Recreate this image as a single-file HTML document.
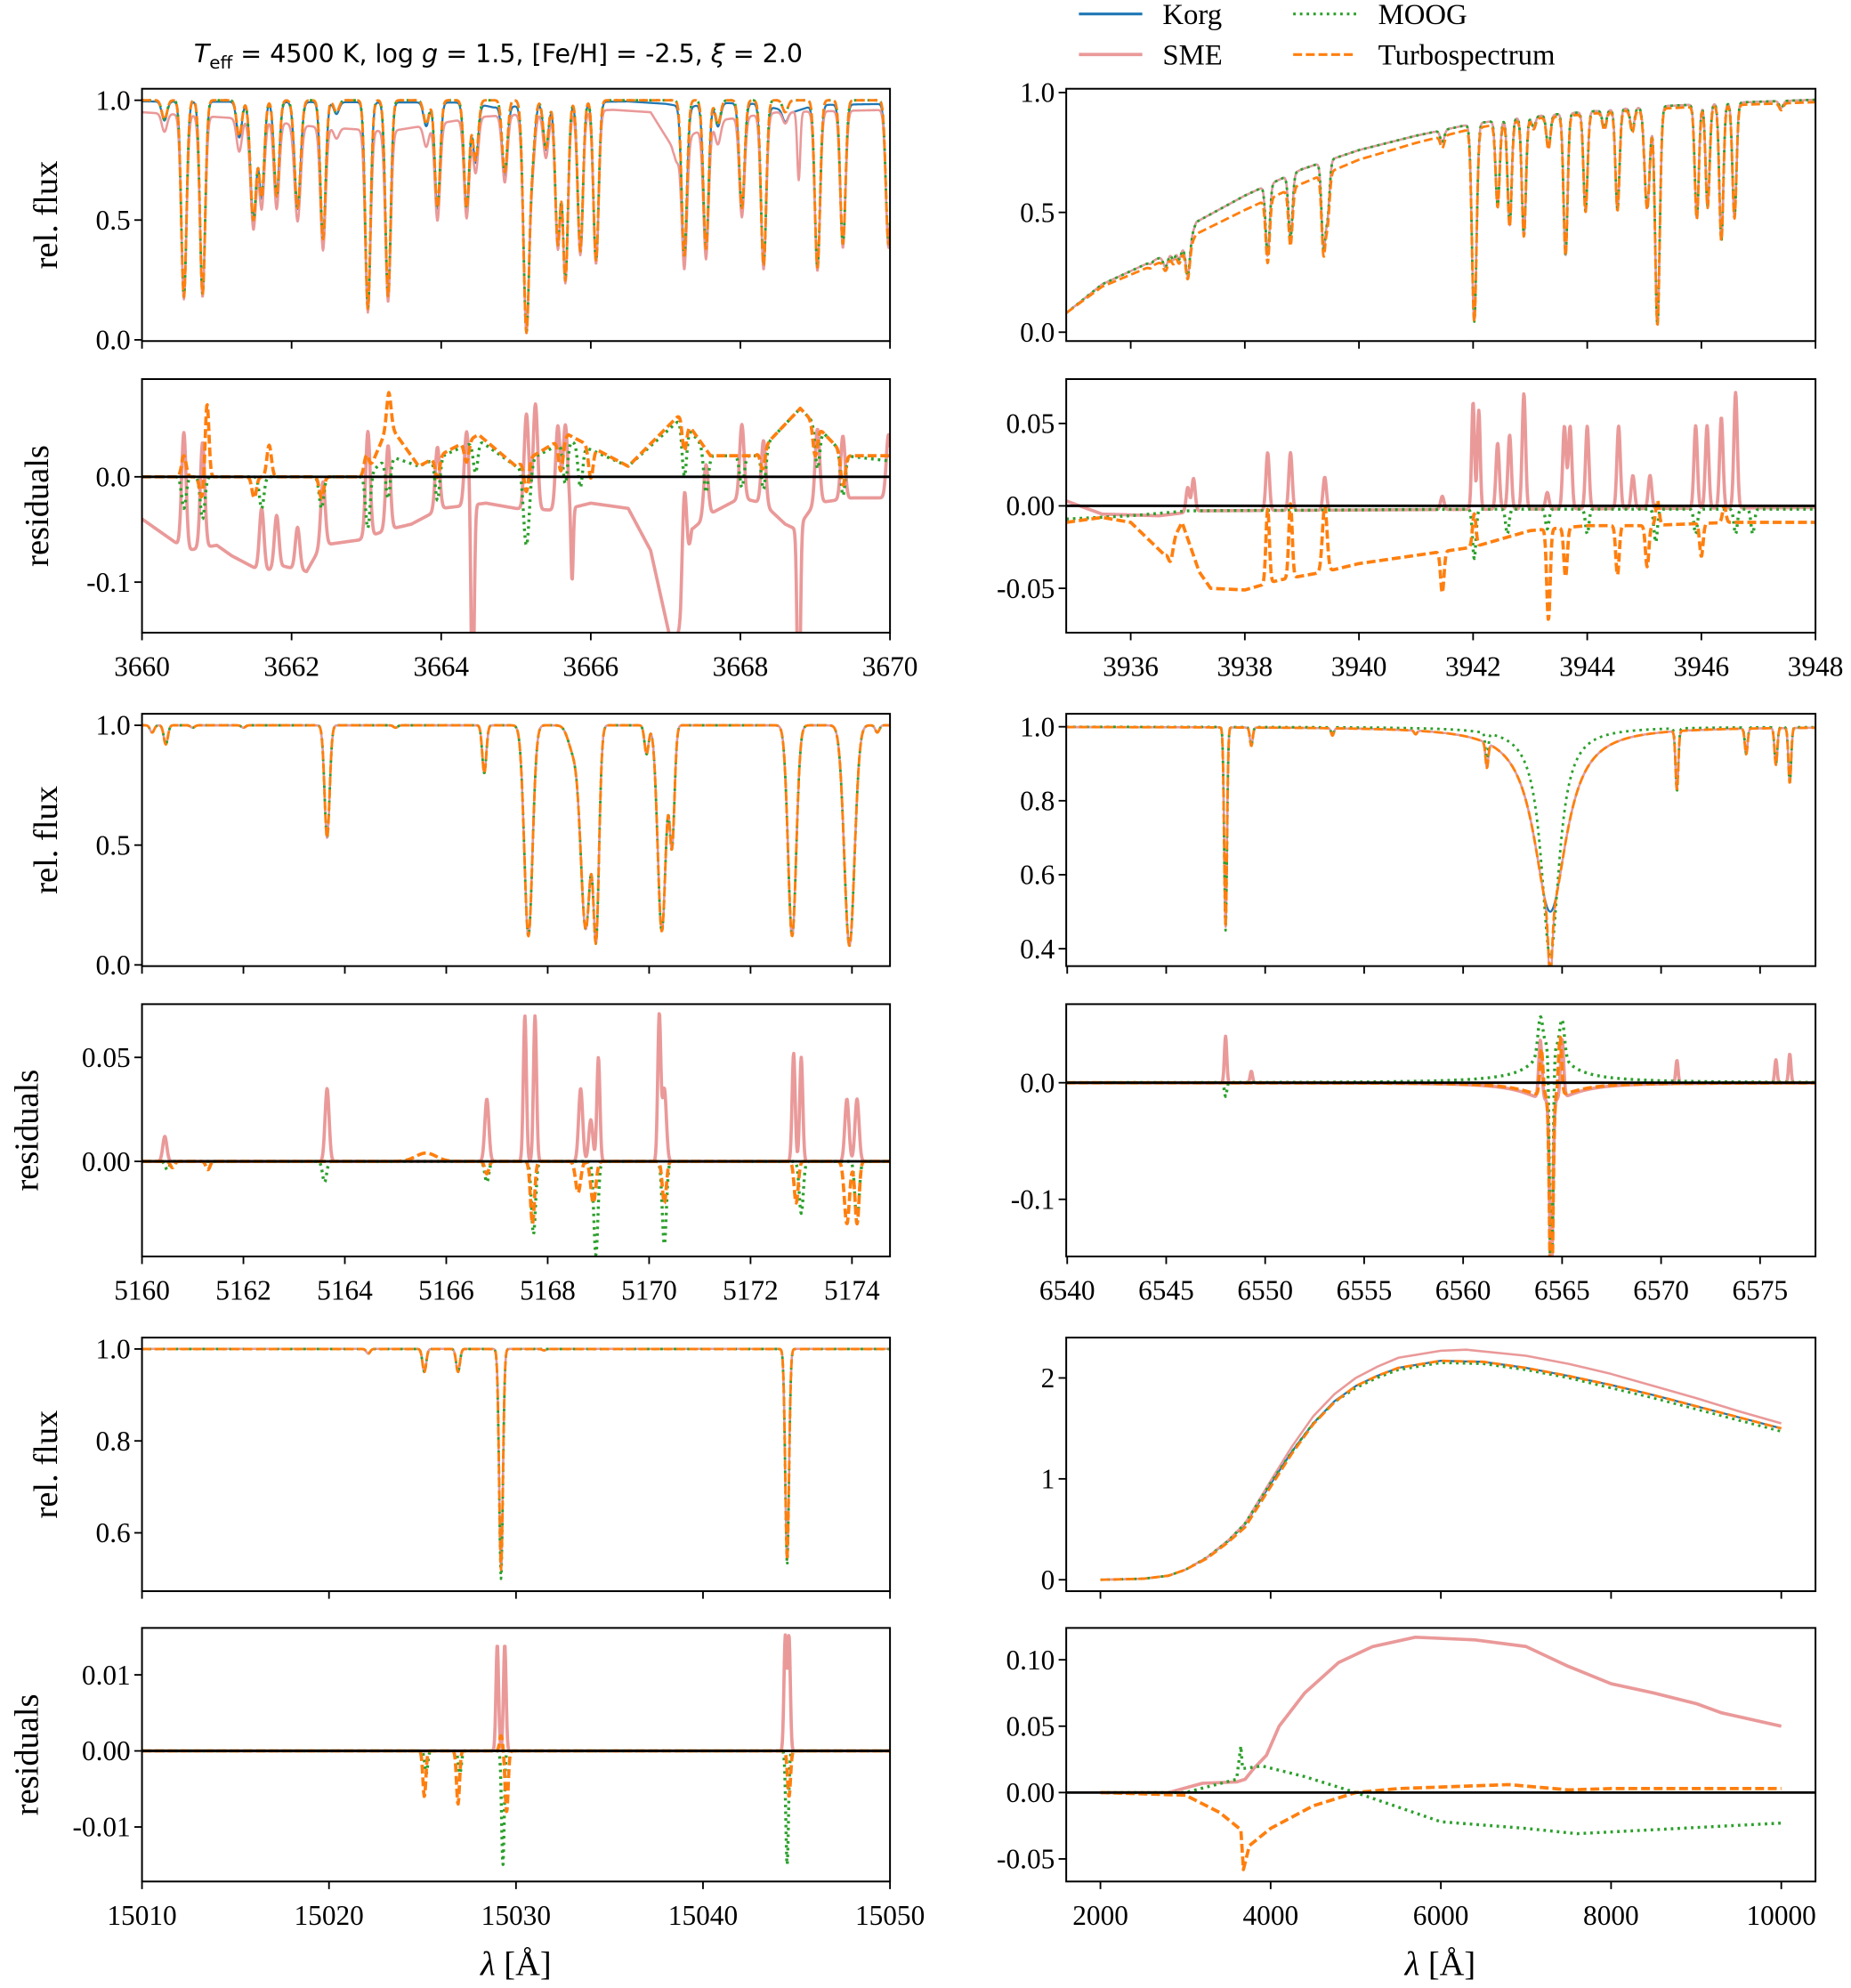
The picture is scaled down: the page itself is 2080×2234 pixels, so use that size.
<!DOCTYPE html>
<html><head><meta charset="utf-8"><style>
html,body{margin:0;padding:0;background:#fff;}
svg{display:block;}
text{font-family:"Liberation Serif","DejaVu Serif",serif;fill:#000;}
</style></head><body>
<svg id="fig" xmlns="http://www.w3.org/2000/svg" width="2080" height="2234" viewBox="0 0 1460 1568" preserveAspectRatio="none">
<rect x="0" y="0" width="1460" height="1568" fill="#fff"/>
<text x="393" y="49" text-anchor="middle" style="font-family:'DejaVu Sans','Liberation Sans',sans-serif;font-size:20px"><tspan font-style="italic">T</tspan><tspan font-size="14" dy="5">eff</tspan><tspan dy="-5"> = 4500 K, log </tspan><tspan font-style="italic">g</tspan><tspan> = 1.5, [Fe/H] = -2.5, </tspan><tspan font-style="italic">ξ</tspan><tspan> = 2.0</tspan></text>
<g>
<line x1="851" y1="11" x2="901" y2="11" stroke="#1f77b4" stroke-width="2.2"/>
<text x="917" y="19" font-size="23">Korg</text>
<line x1="1020" y1="11" x2="1070" y2="11" stroke="#2ca02c" stroke-width="2.2" stroke-dasharray="2,3.3"/>
<text x="1087" y="19" font-size="23">MOOG</text>
<line x1="851" y1="43" x2="901" y2="43" stroke="#ea9999" stroke-width="2.6"/>
<text x="917" y="51" font-size="23">SME</text>
<line x1="1020" y1="43" x2="1070" y2="43" stroke="#ff7f0e" stroke-width="2.2" stroke-dasharray="7,3"/>
<text x="1087" y="51" font-size="23">Turbospectrum</text>
</g>
<text x="407" y="1558" text-anchor="middle" font-size="27"><tspan font-style="italic">λ</tspan> [Å]</text>
<text x="1136" y="1558" text-anchor="middle" font-size="27"><tspan font-style="italic">λ</tspan> [Å]</text>
</svg>
<script>
// ---------- Panel A: 3660-3670 ----------
const linesA = [[3660.3,0.08,0.035],[3660.56,0.82,0.035],[3660.81,0.81,0.035],[3661.3,0.15,0.035],[3661.49,0.5,0.04],[3661.6,0.4,0.035],[3661.8,0.4,0.035],[3662.08,0.45,0.04],[3662.42,0.58,0.035],[3662.6,0.05,0.035],[3663.02,0.87,0.035],[3663.29,0.82,0.035],[3663.8,0.1,0.035],[3663.95,0.45,0.035],[3664.34,0.45,0.035],[3664.46,0.25,0.035],[3664.85,0.3,0.035],[3665.14,0.97,0.04],[3665.22,0.2,0.035],[3665.4,0.2,0.035],[3665.56,0.6,0.035],[3665.66,0.75,0.035],[3665.86,0.63,0.035],[3666.07,0.67,0.035],[3667.25,0.65,0.035],[3667.54,0.62,0.035],[3667.7,0.1,0.035],[3668.02,0.45,0.035],[3668.31,0.69,0.035],[3668.6,0.05,0.035],[3669.03,0.7,0.035],[3669.37,0.6,0.035],[3669.98,0.6,0.035]];
const smeExtraLinesA = [[3668.78,0.3,0.02],[3667.15,0.08,0.03]];
const contKorgA = [[3660,0.995],[3664.4,0.99],[3664.7,0.97],[3665.0,0.975],[3665.3,0.99],[3666.5,0.995],[3667.0,0.985],[3667.3,0.97],[3667.6,0.99],[3668.2,0.985],[3668.7,0.95],[3669.0,0.98],[3670,0.985]];
const contSMEA = [[3660,0.95],[3661.5,0.92],[3662.3,0.89],[3663.3,0.87],[3664.5,0.93],[3665.5,0.95],[3666.3,0.96],[3666.8,0.95],[3667.1,0.8],[3667.3,0.85],[3667.8,0.92],[3668.5,0.95],[3670,0.96]];
const contFlatA = [[3660,1.0],[3670,1.0]];
const smeBaseA = [[3660,-0.04],[3660.4,-0.06],[3660.6,-0.07],[3661.0,-0.065],[3661.2,-0.075],[3661.6,-0.09],[3661.9,-0.085],[3662.2,-0.09],[3662.4,-0.065],[3662.9,-0.06],[3663.3,-0.05],[3663.6,-0.045],[3664.0,-0.03],[3664.6,-0.025],[3665.0,-0.03],[3665.6,-0.032],[3666.0,-0.025],[3666.5,-0.03],[3666.8,-0.07],[3667.05,-0.15],[3667.2,-0.15],[3667.35,-0.05],[3667.6,-0.035],[3668.0,-0.02],[3668.3,-0.025],[3668.6,-0.045],[3668.75,-0.05],[3669.0,-0.025],[3669.5,-0.02],[3670,-0.02]];
const smeSpikesA = [[3660.56,0.11,0.03],[3660.81,0.1,0.03],[3661.6,0.06,0.03],[3661.8,0.05,0.03],[3662.08,0.04,0.03],[3662.42,0.06,0.03],[3663.02,0.1,0.03],[3663.29,0.08,0.03],[3663.95,0.06,0.03],[3664.34,0.07,0.03],[3664.42,-0.2,0.02],[3665.14,0.09,0.03],[3665.26,0.1,0.03],[3665.56,0.08,0.03],[3665.66,0.08,0.03],[3665.75,-0.07,0.015],[3667.25,0.1,0.03],[3667.54,0.05,0.03],[3668.02,0.07,0.03],[3668.31,0.06,0.03],[3668.78,-0.2,0.02],[3669.03,0.07,0.03],[3669.37,0.06,0.03],[3669.98,0.06,0.03]];
const turboBaseA = [[3660,0],[3663.0,0],[3663.3,0.05],[3663.7,0.01],[3664.5,0.04],[3665.0,0.01],[3665.7,0.04],[3666.5,0.01],[3667.2,0.06],[3667.6,0.02],[3668.2,0.02],[3668.8,0.065],[3669.4,0.02],[3670,0.02]];
const turboSpikesA = [[3660.56,0.02,0.03],[3660.8,-0.02,0.03],[3660.87,0.07,0.025],[3661.5,-0.02,0.03],[3661.7,0.03,0.03],[3662.4,-0.02,0.03],[3663.0,0.02,0.03],[3663.3,0.03,0.03],[3663.95,-0.02,0.03],[3664.34,-0.02,0.03],[3665.14,-0.03,0.03],[3665.6,-0.03,0.03],[3666.0,-0.03,0.03],[3667.25,-0.03,0.03],[3668.3,-0.02,0.03],[3669.0,-0.03,0.03],[3669.37,-0.03,0.03]];
const moogBaseA = [[3660,0],[3663.0,0],[3663.3,0.02],[3663.7,0.01],[3664.5,0.035],[3665.0,0.01],[3665.7,0.035],[3666.5,0.01],[3667.2,0.055],[3667.6,0.02],[3668.2,0.02],[3668.8,0.065],[3669.4,0.02],[3670,0.015]];
const moogSpikesA = [[3660.56,-0.03,0.03],[3660.81,-0.04,0.03],[3661.6,-0.03,0.03],[3662.4,-0.03,0.03],[3663.02,-0.05,0.03],[3663.29,-0.04,0.03],[3663.95,-0.04,0.03],[3664.46,-0.03,0.03],[3665.14,-0.08,0.04],[3665.66,-0.04,0.03],[3665.86,-0.04,0.03],[3667.25,-0.05,0.03],[3667.54,-0.04,0.03],[3668.02,-0.03,0.03],[3668.31,-0.04,0.03],[3669.03,-0.04,0.03],[3669.37,-0.04,0.03]];
// ---------- Panel B: 3935-3948 ----------
const linesB = [[3936.35,0.03,0.03],[3936.61,0.15,0.04],[3936.75,0.1,0.03],[3936.85,0.12,0.03],[3937.0,0.35,0.035],[3938.4,0.48,0.035],[3938.8,0.4,0.035],[3939.38,0.5,0.035],[3939.45,0.3,0.035],[3941.46,0.06,0.035],[3942.02,0.95,0.04],[3942.43,0.4,0.035],[3942.64,0.5,0.035],[3942.89,0.55,0.035],[3943.06,0.05,0.035],[3943.32,0.15,0.035],[3943.62,0.65,0.035],[3943.97,0.45,0.035],[3944.3,0.08,0.035],[3944.53,0.45,0.035],[3944.79,0.1,0.035],[3945.05,0.45,0.045],[3945.23,0.97,0.04],[3945.92,0.5,0.035],[3946.11,0.45,0.035],[3946.35,0.6,0.035],[3946.58,0.5,0.035],[3947.4,0.03,0.035]];
const contKorgB = [[3934.87,0.08],[3935.5,0.2],[3936.5,0.31],[3937.0,0.36],[3937.15,0.46],[3938,0.57],[3939,0.68],[3940,0.76],[3941,0.82],[3942,0.87],[3943,0.9],[3944,0.92],[3945,0.94],[3946.8,0.96],[3948,0.97]];
const contTurboB = [[3934.87,0.08],[3935.5,0.19],[3936.5,0.29],[3937.0,0.34],[3937.15,0.41],[3938,0.51],[3939,0.62],[3940,0.72],[3941,0.79],[3942,0.85],[3943,0.89],[3944,0.91],[3945,0.93],[3946.8,0.95],[3948,0.96]];
const smeBaseB = [[3934.87,0.003],[3935.5,-0.005],[3936.5,-0.006],[3937.2,-0.003],[3948,-0.001]];
const smeSpikesB = [[3937.0,0.015,0.03],[3937.1,0.02,0.03],[3938.4,0.035,0.03],[3938.8,0.035,0.03],[3939.4,0.02,0.03],[3941.46,0.008,0.03],[3942.0,0.065,0.025],[3942.1,0.06,0.025],[3942.43,0.04,0.03],[3942.64,0.045,0.03],[3942.89,0.07,0.03],[3943.3,0.01,0.03],[3943.6,0.05,0.03],[3943.7,0.05,0.03],[3944.0,0.05,0.03],[3944.55,0.05,0.03],[3944.8,0.02,0.03],[3945.1,0.02,0.03],[3945.9,0.05,0.03],[3946.1,0.05,0.03],[3946.35,0.055,0.03],[3946.6,0.07,0.03]];
const turboBaseB = [[3934.87,-0.01],[3935.5,-0.007],[3936,-0.01],[3936.3,-0.02],[3936.6,-0.03],[3936.9,-0.01],[3937.2,-0.04],[3937.4,-0.05],[3938,-0.051],[3938.6,-0.045],[3939.4,-0.04],[3940,-0.035],[3941,-0.03],[3942,-0.025],[3943,-0.015],[3944,-0.012],[3945,-0.012],[3946.5,-0.01],[3948,-0.01]];
const turboSpikesB = [[3936.7,-0.01,0.04],[3938.4,0.045,0.03],[3938.8,0.045,0.03],[3939.4,0.04,0.04],[3941.46,-0.025,0.03],[3942.02,0.02,0.03],[3943.32,-0.055,0.03],[3943.62,-0.03,0.03],[3944.53,-0.03,0.03],[3945.05,-0.025,0.03],[3945.23,0.015,0.03],[3946.0,-0.02,0.03],[3946.4,0.01,0.03]];
const moogBaseB = [[3934.87,-0.008],[3936,-0.006],[3937,-0.003],[3942,-0.002],[3948,-0.002]];
const moogSpikesB = [[3942.02,-0.03,0.03],[3942.6,-0.015,0.03],[3943.3,-0.012,0.03],[3944.0,-0.015,0.03],[3945.2,-0.02,0.03],[3945.9,-0.015,0.03],[3946.6,-0.015,0.03],[3946.9,-0.015,0.03]];
// ---------- Panel C: 5160-5175 ----------
const linesC = [[5160.2,0.03,0.04],[5160.47,0.08,0.04],[5161.0,0.01,0.04],[5162.0,0.01,0.04],[5163.65,0.47,0.05],[5165.0,0.01,0.04],[5166.75,0.2,0.04],[5167.62,0.88,0.08],[5168.5,0.1,0.1],[5168.75,0.85,0.1],[5168.95,0.9,0.06],[5169.95,0.12,0.04],[5170.25,0.86,0.08],[5170.45,0.5,0.05],[5172.82,0.88,0.08],[5173.95,0.92,0.1],[5174.5,0.03,0.04]];
const contFlatC = [[5160,1.0],[5175,1.0]];
const zeroBaseC = [[5160,0],[5175,0]];
const smeSpikesC = [[5160.45,0.012,0.04],[5163.65,0.035,0.04],[5166.8,0.03,0.04],[5167.55,0.07,0.03],[5167.75,0.07,0.03],[5168.65,0.035,0.04],[5168.85,0.02,0.04],[5169.0,0.05,0.03],[5170.2,0.07,0.03],[5170.3,0.035,0.04],[5172.85,0.052,0.03],[5173.0,0.05,0.03],[5173.9,0.03,0.04],[5174.1,0.03,0.04]];
const turboSpikesC = [[5160.6,-0.003,0.04],[5161.3,-0.004,0.04],[5165.6,0.004,0.2],[5166.8,-0.006,0.04],[5167.7,-0.03,0.04],[5168.6,-0.015,0.05],[5168.9,-0.02,0.05],[5170.3,-0.02,0.04],[5172.9,-0.02,0.04],[5173.9,-0.03,0.05],[5174.1,-0.03,0.04]];
const moogSpikesC = [[5160.5,-0.004,0.04],[5163.6,-0.01,0.04],[5166.8,-0.01,0.04],[5167.72,-0.035,0.04],[5168.95,-0.045,0.04],[5170.3,-0.04,0.04],[5173.0,-0.025,0.04],[5174.1,-0.03,0.04]];
// ---------- Panel D: 6540-6578 ----------
const linesKorgD = [[6548.0,0.54,0.07],[6549.3,0.05,0.07],[6553.4,0.02,0.07],[6557.6,0.01,0.07],[6561.2,0.07,0.07],[6564.4,0.5,1.0,1],[6570.8,0.16,0.07],[6574.3,0.07,0.07],[6575.8,0.1,0.07],[6576.5,0.15,0.07]];
const coreSMED = [[6564.4,0.38,0.1]];
const coreTurboD = [[6564.4,0.33,0.1]];
const linesMoogD = [[6548.0,0.55,0.07],[6549.3,0.05,0.07],[6553.4,0.02,0.07],[6561.2,0.07,0.07],[6564.4,0.62,0.55,1],[6570.8,0.17,0.07],[6574.3,0.07,0.07],[6575.8,0.1,0.07],[6576.5,0.15,0.07]];
const contFlatD = [[6539,1.0],[6578,1.0]];
const zeroBaseD = [[6539,0],[6578,0]];
const smeSpikesD = [[6548.0,0.04,0.06],[6549.3,0.01,0.06],[6570.8,0.02,0.06],[6575.8,0.02,0.06],[6576.5,0.025,0.06],[6564.4,-0.015,1.5,1],[6563.9,0.05,0.08],[6565.0,0.05,0.08],[6564.45,-0.16,0.08]];
const moogSpikesD = [[6548.0,-0.012,0.06],[6564.4,0.005,3,1],[6564.4,0.03,0.8,1],[6563.9,0.03,0.12],[6565.0,0.03,0.12],[6564.45,-0.22,0.08]];
const turboSpikesD = [[6564.4,-0.012,1.5,1],[6563.95,0.04,0.08],[6564.9,0.05,0.08],[6564.45,-0.2,0.08]];
// ---------- Panel E: 15010-15050 ----------
const linesE = [[15022.1,0.01,0.1],[15025.1,0.05,0.1],[15026.9,0.05,0.1],[15029.2,0.48,0.1],[15031.5,0.003,0.1],[15044.5,0.46,0.1]];
const linesMoogE = [[15022.1,0.01,0.1],[15025.1,0.05,0.1],[15026.9,0.05,0.1],[15029.2,0.5,0.1],[15044.5,0.47,0.1]];
const contFlatE = [[15010,1.0],[15050,1.0]];
const zeroBaseE = [[15010,0],[15050,0]];
const smeSpikesE = [[15029.0,0.014,0.07],[15029.4,0.014,0.07],[15044.4,0.015,0.07],[15044.6,0.015,0.07]];
const turboSpikesE = [[15025.1,-0.006,0.08],[15026.9,-0.007,0.08],[15029.5,-0.008,0.08],[15029.2,0.002,0.08],[15044.6,-0.006,0.08]];
const moogSpikesE = [[15025.2,-0.003,0.08],[15027.0,-0.003,0.08],[15029.3,-0.015,0.07],[15044.5,-0.015,0.07]];
// ---------- Panel F: 2000-10000 ----------
const fluxKorgF = [[2000,0],[2500,0.01],[2800,0.04],[3000,0.1],[3250,0.22],[3500,0.38],[3700,0.55],[4000,0.95],[4250,1.27],[4500,1.55],[4750,1.77],[5000,1.92],[5250,2.02],[5500,2.1],[6000,2.17],[6500,2.16],[7000,2.1],[7500,2.02],[8000,1.93],[8500,1.83],[9000,1.72],[9500,1.61],[10000,1.5]];
const fluxSMEF = [[2000,0],[2500,0.01],[2800,0.04],[3000,0.1],[3250,0.22],[3500,0.39],[3700,0.56],[4000,0.98],[4250,1.32],[4500,1.62],[4750,1.84],[5000,2.0],[5250,2.11],[5500,2.2],[6000,2.27],[6300,2.28],[7000,2.22],[7500,2.14],[8000,2.04],[8500,1.92],[9000,1.8],[9500,1.67],[10000,1.55]];
const fluxMoogF = [[2000,0],[2500,0.01],[2800,0.04],[3000,0.1],[3250,0.22],[3500,0.385],[3700,0.56],[4000,0.96],[4250,1.27],[4500,1.55],[4750,1.76],[5000,1.9],[5250,2.0],[5500,2.08],[6000,2.15],[6500,2.14],[7000,2.08],[7500,2.0],[8000,1.9],[8500,1.8],[9000,1.69],[9500,1.58],[10000,1.47]];
const fluxTurboF = [[2000,0],[2500,0.01],[2800,0.04],[3000,0.1],[3250,0.21],[3500,0.37],[3700,0.52],[4000,0.92],[4250,1.25],[4500,1.54],[4750,1.76],[5000,1.92],[5250,2.02],[5500,2.1],[6000,2.17],[6500,2.16],[7000,2.1],[7500,2.02],[8000,1.93],[8500,1.83],[9000,1.72],[9500,1.61],[10000,1.5]];
const resSMEF = [[2000,0],[2800,0],[3200,0.007],[3600,0.008],[3700,0.01],[3800,0.018],[3950,0.028],[4100,0.05],[4400,0.075],[4800,0.098],[5200,0.11],[5700,0.117],[6400,0.115],[7000,0.11],[7500,0.095],[8000,0.082],[8500,0.075],[9000,0.067],[9300,0.06],[10000,0.05]];
const resMoogF = [[2000,0],[3000,0],[3600,0.01],[3650,0.035],[3670,0.018],[3900,0.02],[4400,0.012],[5000,0],[6000,-0.022],[7000,-0.027],[7600,-0.031],[8500,-0.028],[10000,-0.023]];
const resTurboF = [[2000,0],[3000,-0.002],[3400,-0.015],[3650,-0.028],[3680,-0.058],[3750,-0.04],[4000,-0.027],[4500,-0.01],[5000,0],[5500,0.003],[6800,0.006],[7500,0.002],[8000,0.003],[10000,0.003]];
// ---------- tick labels ----------
const ticksXA = [3660,3662,3664,3666,3668,3670];
const ticksXB = [3936,3938,3940,3942,3944,3946,3948];
const ticksXC = [5160,5162,5164,5166,5168,5170,5172,5174];
const ticksXD = [6540,6545,6550,6555,6560,6565,6570,6575];
const ticksXE = [15010,15020,15030,15040,15050];
const ticksXF = [2000,4000,6000,8000,10000];
const ticksFlux01 = [[0,"0.0"],[0.5,"0.5"],[1.0,"1.0"]];
const ticksResA = [[-0.1,"-0.1"],[0,"0.0"]];
const ticksResB = [[-0.05,"-0.05"],[0,"0.00"],[0.05,"0.05"]];
const ticksResC = [[0,"0.00"],[0.05,"0.05"]];
const ticksFluxD = [[0.4,"0.4"],[0.6,"0.6"],[0.8,"0.8"],[1.0,"1.0"]];
const ticksResD = [[-0.1,"-0.1"],[0,"0.0"]];
const ticksFluxE = [[0.6,"0.6"],[0.8,"0.8"],[1.0,"1.0"]];
const ticksResE = [[-0.01,"-0.01"],[0,"0.00"],[0.01,"0.01"]];
const ticksFluxF = [[0,"0"],[1,"1"],[2,"2"]];
const ticksResF = [[-0.05,"-0.05"],[0,"0.00"],[0.05,"0.05"],[0.10,"0.10"]];

const NS = "http://www.w3.org/2000/svg";
const svg = document.getElementById('fig');
const C = {korg:"#1f77b4", sme:"#ea9999", moog:"#2ca02c", turbo:"#ff7f0e"};
function interp(pts, x){
  if (x <= pts[0][0]) return pts[0][1];
  for (let i=1;i<pts.length;i++){ if (x <= pts[i][0]){ const a=pts[i-1], b=pts[i]; return a[1]+(b[1]-a[1])*(x-a[0])/(b[0]-a[0]); } }
  return pts[pts.length-1][1];
}
function prof(l, x){ const u=(x-l[0])/l[2]; return l[3] ? 1/(1+u*u) : Math.exp(-0.5*u*u); }
function synth(cont, lines){ return x => { let v=interp(cont,x); for (const l of lines) v *= (1 - l[1]*prof(l,x)); return v; }; }
function resid(base, spikes){ return x => { let v=interp(base,x); for (const s of spikes) v += s[1]*prof(s,x); return v; }; }
function el(tag, attrs, parent){ const e=document.createElementNS(NS,tag); for (const k in attrs) e.setAttribute(k, attrs[k]); (parent||svg).appendChild(e); return e; }
let clipId = 0;
function panel(cfg){
  const g = el('g', {});
  
  
  const [x0,x1,y0,y1] = cfg.box, [a,b]=cfg.xlim, [lo,hi]=cfg.ylim;
  const sx = v => x0 + (v-a)/(b-a)*(x1-x0);
  const sy = v => y1 - (v-lo)/(hi-lo)*(y1-y0);
  const id = 'clip'+(clipId++);
  const cp = el('clipPath', {id:id}, g); el('rect', {x:x0, y:y0, width:x1-x0, height:y1-y0}, cp);
  const plot = el('g', {'clip-path':'url(#'+id+')'}, g);
  for (const s of cfg.series){
    let d = '';
    if (s.pts){
      s.pts.forEach((p,i)=>{ d += (i?'L':'M') + sx(p[0]).toFixed(2)+','+sy(p[1]).toFixed(2); });
    } else {
      const N = cfg.n || 1500;
      for (let i=0;i<=N;i++){ const x=a+(b-a)*i/N; d += (i?'L':'M') + sx(x).toFixed(2)+','+sy(s.f(x)).toFixed(2); }
    }
    const p = el('path', {d:d, fill:'none', stroke:C[s.key], 'stroke-width':s.w||1.6, 'stroke-linejoin':'round'}, plot);
    if (s.key==='turbo') p.setAttribute('stroke-dasharray','7,3');
    if (s.key==='moog') p.setAttribute('stroke-dasharray','2,3.3');
    
    
  }
  if (cfg.zero){
    const z = el('line', {x1:x0, x2:x1, y1:sy(0), y2:sy(0), stroke:'#000', 'stroke-width':2}, plot);
    
    
  }
  const fr = el('rect', {x:x0, y:y0, width:x1-x0, height:y1-y0, fill:'none', stroke:'#000', 'stroke-width':1.4}, g);
  
  
  for (const t of cfg.xticks){
    const X = sx(t);
    el('line', {x1:X, x2:X, y1:y1, y2:y1+6, stroke:'#000', 'stroke-width':1.3}, g);
    if (cfg.xlabels){
      const tx = el('text', {x:X, y:y1+34, 'text-anchor':'middle', 'font-size':22}, g);
      tx.textContent = String(t);
      
      
    }
  }
  for (const t of cfg.yticks){
    const Y = sy(t[0]);
    el('line', {x1:x0-6, x2:x0, y1:Y, y2:Y, stroke:'#000', 'stroke-width':1.3}, g);
    const ty = el('text', {x:x0-9, y:Y+7.5, 'text-anchor':'end', 'font-size':22}, g);
    ty.textContent = t[1];
    
    
  }
  if (cfg.ylabel){
    const cy=(y0+y1)/2, cx=cfg.ylabelX;
    const yl = el('text', {x:cx, y:cy, 'text-anchor':'middle', 'font-size':27, transform:'rotate(-90 '+cx+' '+cy+')'}, g);
    yl.textContent = cfg.ylabel;
    
    
  }
}
const L=[112,702], R=[841,1432];
const rows=[[70,269,299,499],[563,762,792,991],[1055,1255,1284,1484]];
// Row 1
panel({name:'flux-3660', box:[L[0],L[1],rows[0][0],rows[0][1]], xlim:[3660,3670], ylim:[-0.005,1.048], xticks:ticksXA, yticks:ticksFlux01, ylabel:'rel. flux', ylabelX:45,
  series:[{key:'korg',f:synth(contKorgA,linesA)},{key:'sme',f:synth(contSMEA,linesA.concat(smeExtraLinesA)),w:1.8},{key:'moog',f:synth(contFlatA,linesA),w:2},{key:'turbo',f:synth(contFlatA,linesA),w:2}]});
panel({name:'residuals-3660', box:[L[0],L[1],rows[0][2],rows[0][3]], xlim:[3660,3670], ylim:[-0.148,0.0928], xticks:ticksXA, xlabels:true, yticks:ticksResA, ylabel:'residuals', ylabelX:38, zero:true,
  series:[{key:'sme',f:resid(smeBaseA,smeSpikesA),w:2.6},{key:'moog',f:resid(moogBaseA,moogSpikesA),w:2.4},{key:'turbo',f:resid(turboBaseA,turboSpikesA),w:2.6}]});
panel({name:'flux-3940', box:[R[0],R[1],rows[0][0],rows[0][1]], xlim:[3934.87,3948], ylim:[-0.037,1.016], xticks:ticksXB, yticks:ticksFlux01,
  series:[{key:'korg',f:synth(contKorgB,linesB)},{key:'sme',f:synth(contKorgB,linesB),w:1.6},{key:'moog',f:synth(contKorgB,linesB),w:2},{key:'turbo',f:synth(contTurboB,linesB),w:2}]});
panel({name:'residuals-3940', box:[R[0],R[1],rows[0][2],rows[0][3]], xlim:[3934.87,3948], ylim:[-0.0769,0.0769], xticks:ticksXB, xlabels:true, yticks:ticksResB, zero:true,
  series:[{key:'sme',f:resid(smeBaseB,smeSpikesB),w:2.6},{key:'moog',f:resid(moogBaseB,moogSpikesB),w:2.4},{key:'turbo',f:resid(turboBaseB,turboSpikesB),w:2.6}]});
// Row 2
panel({name:'flux-5167', box:[L[0],L[1],rows[1][0],rows[1][1]], xlim:[5160,5174.75], ylim:[-0.005,1.048], xticks:ticksXC, yticks:ticksFlux01, ylabel:'rel. flux', ylabelX:45,
  series:[{key:'korg',f:synth(contFlatC,linesC)},{key:'sme',f:synth(contFlatC,linesC)},{key:'moog',f:synth(contFlatC,linesC),w:2},{key:'turbo',f:synth(contFlatC,linesC),w:2}]});
panel({name:'residuals-5167', box:[L[0],L[1],rows[1][2],rows[1][3]], xlim:[5160,5174.75], ylim:[-0.0457,0.0756], xticks:ticksXC, xlabels:true, yticks:ticksResC, ylabel:'residuals', ylabelX:30, zero:true,
  series:[{key:'sme',f:resid(zeroBaseC,smeSpikesC),w:2.6},{key:'moog',f:resid(zeroBaseC,moogSpikesC),w:2.4},{key:'turbo',f:resid(zeroBaseC,turboSpikesC),w:2.6}]});
panel({name:'flux-halpha', box:[R[0],R[1],rows[1][0],rows[1][1]], xlim:[6539.95,6577.8], ylim:[0.353,1.035], xticks:ticksXD, yticks:ticksFluxD,
  series:[{key:'korg',f:synth(contFlatD,linesKorgD)},{key:'sme',f:synth(contFlatD,linesKorgD.concat(coreSMED))},{key:'moog',f:synth(contFlatD,linesMoogD),w:2},{key:'turbo',f:synth(contFlatD,linesKorgD.concat(coreTurboD)),w:2}]});
panel({name:'residuals-halpha', box:[R[0],R[1],rows[1][2],rows[1][3]], xlim:[6539.95,6577.8], ylim:[-0.149,0.0674], xticks:ticksXD, xlabels:true, yticks:ticksResD, zero:true,
  series:[{key:'sme',f:resid(zeroBaseD,smeSpikesD),w:2.6},{key:'moog',f:resid(zeroBaseD,moogSpikesD),w:2.4},{key:'turbo',f:resid(zeroBaseD,turboSpikesD),w:2.6}]});
// Row 3
panel({name:'flux-15030', box:[L[0],L[1],rows[2][0],rows[2][1]], xlim:[15010,15050], ylim:[0.4731,1.0248], xticks:ticksXE, yticks:ticksFluxE, ylabel:'rel. flux', ylabelX:45,
  series:[{key:'korg',f:synth(contFlatE,linesE)},{key:'sme',f:synth(contFlatE,linesE)},{key:'moog',f:synth(contFlatE,linesMoogE),w:2},{key:'turbo',f:synth(contFlatE,linesE),w:2}]});
panel({name:'residuals-15030', box:[L[0],L[1],rows[2][2],rows[2][3]], xlim:[15010,15050], ylim:[-0.01717,0.01617], xticks:ticksXE, xlabels:true, yticks:ticksResE, ylabel:'residuals', ylabelX:30, zero:true,
  series:[{key:'sme',f:resid(zeroBaseE,smeSpikesE),w:2.6},{key:'moog',f:resid(zeroBaseE,moogSpikesE),w:2.4},{key:'turbo',f:resid(zeroBaseE,turboSpikesE),w:2.6}]});
panel({name:'flux-broadband', box:[R[0],R[1],rows[2][0],rows[2][1]], xlim:[1598,10402], ylim:[-0.113,2.40], xticks:ticksXF, yticks:ticksFluxF,
  series:[{key:'korg',pts:fluxKorgF},{key:'sme',pts:fluxSMEF,w:1.8},{key:'moog',pts:fluxMoogF,w:2},{key:'turbo',pts:fluxTurboF,w:2}]});
panel({name:'residuals-broadband', box:[R[0],R[1],rows[2][2],rows[2][3]], xlim:[1598,10402], ylim:[-0.067,0.124], xticks:ticksXF, xlabels:true, yticks:ticksResF, zero:true,
  series:[{key:'sme',pts:resSMEF,w:2.6},{key:'moog',pts:resMoogF,w:2.4},{key:'turbo',pts:resTurboF,w:2.6}]});
</script>
</body></html>
